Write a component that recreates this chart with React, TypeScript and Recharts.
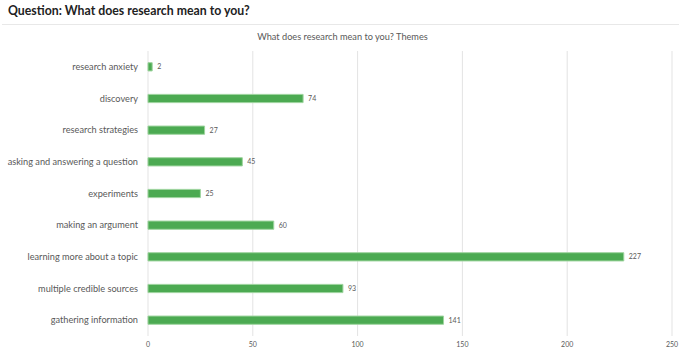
import React from "react";
import { BarChart, Bar, XAxis, YAxis, CartesianGrid, LabelList } from "recharts";

const categories = [
  "research anxiety",
  "discovery",
  "research strategies",
  "asking and answering a question",
  "experiments",
  "making an argument",
  "learning more about a topic",
  "multiple credible sources",
  "gathering information",
];
const counts = [2, 74, 27, 45, 25, 60, 227, 93, 141];
const xTicks = [0, 50, 100, 150, 200, 250];
const pageTitle = "Question: What does research mean to you?";
const chartTitle = "What does research mean to you? Themes";

const data = categories.map((c, i) => ({ name: c, value: counts[i] }));

const FONT = "Lato, 'Open Sans', sans-serif";

const CategoryTick = (props: any) => {
  const { x, y, payload } = props;
  return (
    <text x={x} y={y} dy="0.35em" textAnchor="end" fontSize={9.2} fill="#595959" fontFamily={FONT}>
      {payload.value}
    </text>
  );
};

export default function App() {
  return (
    <div style={{ position: "absolute", left: 0, top: 0, width: 679, height: 353, background: "#fff", fontFamily: FONT }}>
      <div style={{ position: "absolute", left: 8, top: 3, fontSize: 12.3, fontWeight: 700, color: "#222", whiteSpace: "nowrap" }}>
        {pageTitle}
      </div>
      <div style={{ position: "absolute", left: 2, right: 0, top: 24, height: 1, background: "#e8e8e8" }} />
      <div style={{ position: "absolute", left: 0, top: 31, width: 679, textAlign: "center", fontSize: 9.2, color: "#595959", paddingLeft: 3 }}>
        {chartTitle}
      </div>
      <div style={{ position: "absolute", left: 0, top: 0 }}>
        <BarChart width={679} height={353} data={data} layout="vertical" margin={{ top: 51, right: 7, bottom: 2, left: 8 }} barCategoryGap="63%">
          <CartesianGrid horizontal={false} vertical={true} stroke="#e3e3e3" />
          <XAxis
            type="number"
            domain={[0, 250]}
            ticks={xTicks}
            axisLine={false}
            tickLine={false}
            tickSize={0}
            tickMargin={6}
            height={15}
            tick={{ fontSize: 7, fill: "#595959", fontFamily: FONT }}
          />
          <YAxis
            type="category"
            dataKey="name"
            width={140}
            axisLine={false}
            tickLine={false}
            tickSize={0}
            tickMargin={10}
            interval={0}
            tick={<CategoryTick />}
          />
          <Bar dataKey="value" fill="#4CAA52" stroke="#9ED49E" strokeWidth={1} isAnimationActive={false}>
            <LabelList dataKey="value" position="right" offset={5} style={{ fontSize: 7, fill: "#595959", fontFamily: FONT }} />
          </Bar>
        </BarChart>
      </div>
    </div>
  );
}
